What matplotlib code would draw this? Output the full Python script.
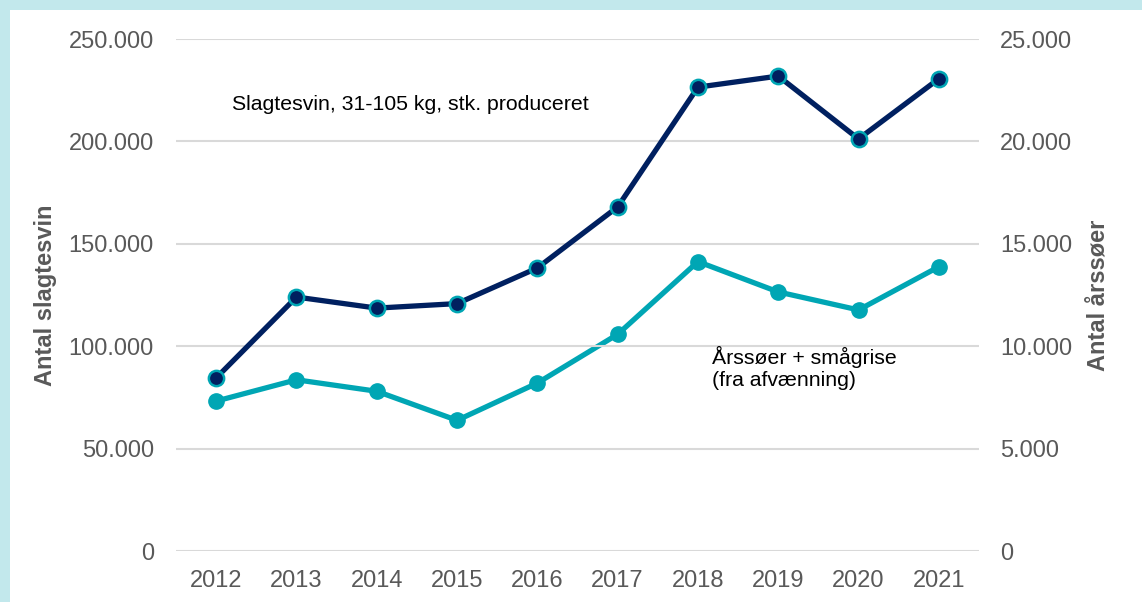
import matplotlib
matplotlib.use("Agg")
import matplotlib.pyplot as plt
from matplotlib.patches import Rectangle

years = ["2012", "2013", "2014", "2015", "2016", "2017", "2018", "2019", "2020", "2021"]
slagtesvin = [84500, 124000, 118600, 120800, 138200, 168000, 226500, 231900, 201200, 230600]
aarssoer = [7320, 8360, 7800, 6380, 8200, 10580, 14130, 12650, 11770, 13880]
left_ticks = [0, 50000, 100000, 150000, 200000, 250000]
left_labels = ["0", "50.000", "100.000", "150.000", "200.000", "250.000"]
right_ticks = [0, 5000, 10000, 15000, 20000, 25000]
right_labels = ["0", "5.000", "10.000", "15.000", "20.000", "25.000"]

plt.rcParams['font.family'] = ['Liberation Sans', 'DejaVu Sans']
W, H = 1142, 602
fig = plt.figure(figsize=(W/100, H/100), dpi=100)
fig.patch.set_facecolor('#C2E8EC')
fig.patches.append(Rectangle((10/W, 0), 1, 1 - 10/H, transform=fig.transFigure,
                             facecolor='white', edgecolor='none', zorder=-5))

ax = fig.add_axes([176/W, 1 - 551/H, (979-176)/W, (551-39)/H])
ax2 = ax.twinx()
ax2.patch.set_visible(False)

navy = '#002060'
teal = '#00A6B4'
grey = '#595959'
x = list(range(len(years)))

ax2.plot(x, aarssoer, color=teal, lw=3.8, marker='o', ms=11, mfc=teal, mec=teal, zorder=3)
ax.plot(x, slagtesvin, color=navy, lw=3.8, marker='o', ms=11, mfc=navy, mec=teal, mew=1.8, zorder=3)
ax.set_zorder(2)
ax2.set_zorder(1)
ax.patch.set_visible(False)

ax.set_xlim(-0.5, len(years) - 0.5)
ax.set_ylim(0, 250000)
ax2.set_ylim(0, 25000)
ax.set_yticks(left_ticks, left_labels)
ax2.set_yticks(right_ticks, right_labels)
ax.set_xticks(x, years)
for a in (ax, ax2):
    for s in a.spines.values():
        s.set_visible(False)
    a.tick_params(length=0, labelsize=17, labelcolor=grey)
ax.tick_params(axis='y', pad=16)
ax2.tick_params(axis='y', pad=15)
ax.tick_params(axis='x', pad=14)
ax.yaxis.grid(True, color='#D9D9D9', lw=1.5)
ax.set_axisbelow(True)

fig.text(46/W, 1 - 295/H, "Antal slagtesvin", rotation=90, ha='center', va='center',
         fontsize=17, fontweight='bold', color=grey)
fig.text(1098/W, 1 - 295/H, "Antal årssøer", rotation=90, ha='center', va='center',
         fontsize=17, fontweight='bold', color=grey)

fig.text(232/W, 1 - 104/H, "Slagtesvin, 31-105 kg, stk. produceret", ha='left', va='center',
         fontsize=15.3, color='black')
fig.text(712/W, 1 - 368/H, "Årssøer + smågrise\n(fra afvænning)", ha='left', va='center',
         fontsize=15.3, color='black', linespacing=1.15)

fig.savefig("out.png", dpi=100)
